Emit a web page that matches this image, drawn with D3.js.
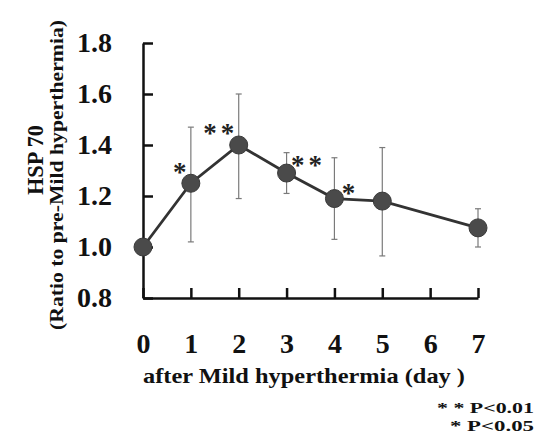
<!DOCTYPE html>
<html>
<head>
<meta charset="utf-8">
<script src="https://cdn.jsdelivr.net/npm/d3@7"></script>
<style>
  body { margin: 0; background: #fff; }
  text { font-family: "Liberation Serif", "Times New Roman", serif; font-weight: bold; }
</style>
</head>
<body>
<script>
// HSP70 ratio after mild hyperthermia
const days = [0, 1, 2, 3, 4, 5, 7];
const means = [1.00, 1.25, 1.40, 1.29, 1.19, 1.18, 1.075];
const upper = [1.00, 1.47, 1.60, 1.37, 1.35, 1.39, 1.15];
const lower = [1.00, 1.02, 1.19, 1.21, 1.03, 0.965, 1.00];
const sigDays = [1, 2, 3, 4];
const sigMarks = ["*", "**", "**", "*"];
const xTicks = [0, 1, 2, 3, 4, 5, 6, 7];
const yTicks = [0.8, 1.0, 1.2, 1.4, 1.6, 1.8];

const width = 534, height = 441;
const svg = d3.select("body").append("svg")
    .attr("width", width)
    .attr("height", height);

const x = d3.scaleLinear().domain([0, 7]).range([143, 478]);
const y = d3.scaleLinear().domain([0.8, 1.8]).range([298, 43]);

// y axis, ticks pointing inward
const yAxis = svg.append("g")
    .attr("transform", `translate(${x(0)},0)`)
    .call(d3.axisLeft(y).tickValues(yTicks).tickFormat(d3.format(".1f"))
        .tickSizeInner(-10).tickSizeOuter(0).tickPadding(31));
yAxis.select(".domain").attr("stroke", "#111").attr("stroke-width", 2.5);
yAxis.selectAll(".tick line").attr("stroke", "#111").attr("stroke-width", 2.5);
yAxis.selectAll(".tick text").attr("font-size", 28).attr("fill", "#111")
    .attr("font-family", "Liberation Serif").attr("font-weight", "bold");

const xAxis = svg.append("g")
    .attr("transform", `translate(0,${y(0.8)})`)
    .call(d3.axisBottom(x).tickValues(xTicks).tickFormat(d3.format("d"))
        .tickSizeInner(-10).tickSizeOuter(0).tickPadding(35));
xAxis.select(".domain").attr("stroke", "#111").attr("stroke-width", 2.5);
xAxis.selectAll(".tick line").attr("stroke", "#111").attr("stroke-width", 2.5);
xAxis.selectAll(".tick text").attr("font-size", 28).attr("fill", "#111")
    .attr("font-family", "Liberation Serif").attr("font-weight", "bold");

// error bars
const pts = days.map((d, i) => ({day: d, m: means[i], hi: upper[i], lo: lower[i]}));
const eb = svg.append("g").attr("stroke", "#7a7a7a").attr("stroke-width", 1.2);
pts.filter(p => p.hi !== p.lo).forEach(p => {
  eb.append("line").attr("x1", x(p.day)).attr("x2", x(p.day))
    .attr("y1", y(p.hi)).attr("y2", y(p.lo));
  eb.append("line").attr("x1", x(p.day) - 3).attr("x2", x(p.day) + 3)
    .attr("y1", y(p.hi)).attr("y2", y(p.hi));
  eb.append("line").attr("x1", x(p.day) - 3).attr("x2", x(p.day) + 3)
    .attr("y1", y(p.lo)).attr("y2", y(p.lo));
});

const line = d3.line().x(d => x(d.day)).y(d => y(d.m));
svg.append("path")
    .style("fill", "none")
    .style("stroke", "#333")
    .style("stroke-width", 2.8)
    .attr("d", line(pts));

svg.selectAll("circle.pt")
  .data(pts)
  .join("circle")
    .attr("class", "pt")
    .attr("cx", d => x(d.day))
    .attr("cy", d => y(d.m))
    .attr("r", 9)
    .attr("fill", "#4a4a4a")
    .attr("stroke", "#3a3a3a")
    .attr("stroke-width", 1);

// significance stars
const starOff = [[-9, -15], [-18, -16], [22, -12], [16, -10]];
sigDays.forEach((d, i) => {
  const m = means[days.indexOf(d)];
  svg.append("text")
    .attr("x", x(d) + starOff[i][0])
    .attr("y", y(m) + starOff[i][1] + 13)
    .attr("text-anchor", "middle")
    .attr("font-size", 27)
    .attr("letter-spacing", 4)
    .attr("fill", "#222")
    .text(sigMarks[i]);
});

// titles
svg.append("text")
    .attr("x", 143).attr("y", 383)
    .attr("font-size", 21)
    .attr("textLength", 322)
    .attr("lengthAdjust", "spacingAndGlyphs")
    .attr("fill", "#111")
    .text("after Mild hyperthermia (day )");

svg.append("text")
    .attr("transform", "translate(43,195) rotate(-90)")
    .attr("font-size", 24)
    .attr("textLength", 70)
    .attr("lengthAdjust", "spacingAndGlyphs")
    .attr("fill", "#111")
    .text("HSP 70");

svg.append("text")
    .attr("transform", "translate(63,330) rotate(-90)")
    .attr("font-size", 19)
    .attr("textLength", 310)
    .attr("lengthAdjust", "spacingAndGlyphs")
    .attr("fill", "#111")
    .text("(Ratio to pre-Mild hyperthermia)");

svg.append("text")
    .attr("x", 437).attr("y", 413)
    .attr("font-size", 15)
    .attr("textLength", 97)
    .attr("lengthAdjust", "spacingAndGlyphs")
    .attr("fill", "#111")
    .text("* * P<0.01");
svg.append("text")
    .attr("x", 450).attr("y", 431)
    .attr("font-size", 15)
    .attr("textLength", 84)
    .attr("lengthAdjust", "spacingAndGlyphs")
    .attr("fill", "#111")
    .text("* P<0.05");
</script>
</body>
</html>
